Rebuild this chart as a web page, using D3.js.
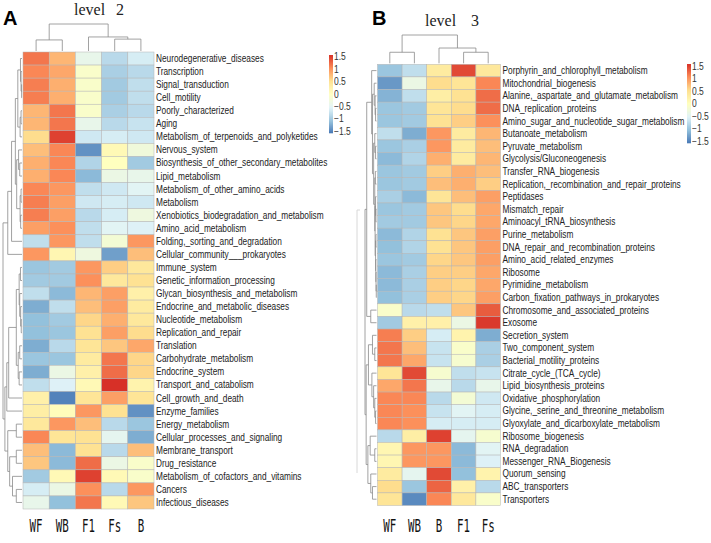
<!DOCTYPE html>
<html>
<head>
<meta charset="utf-8">
<script src="https://cdn.jsdelivr.net/npm/d3@7"></script>
<style>
body { margin: 0; background: #fff; }
svg { display: block; }
.rowlab { font-family: "Liberation Sans", Arial, sans-serif; font-size: 10px; fill: #222; }
.leglab { font-family: "Liberation Sans", Arial, sans-serif; font-size: 10px; fill: #333; }
.collab { font-family: "DejaVu Sans Mono", monospace; font-size: 15px; fill: #111; }
.title { font-family: "Liberation Serif", serif; font-size: 16px; fill: #222; }
.panel { font-family: "Liberation Sans", Arial, sans-serif; font-size: 20px; font-weight: bold; fill: #000; }
</style>
</head>
<body>
<svg id="chart" width="711" height="543"></svg>
<script>
// ---- data ----
var colsA = ["WF", "WB", "F1", "Fs", "B"];
var rowsA = ["Neurodegenerative_diseases", "Transcription", "Signal_transduction", "Cell_motility",
    "Poorly_characterized", "Aging", "Metabolism_of_terpenoids_and_polyketides", "Nervous_system",
    "Biosynthesis_of_other_secondary_metabolites", "Lipid_metabolism", "Metabolism_of_other_amino_acids",
    "Metabolism", "Xenobiotics_biodegradation_and_metabolism", "Amino_acid_metabolism",
    "Folding,_sorting_and_degradation", "Cellular_community___prokaryotes", "Immune_system",
    "Genetic_information_processing", "Glycan_biosynthesis_and_metabolism", "Endocrine_and_metabolic_diseases",
    "Nucleotide_metabolism", "Replication_and_repair", "Translation", "Carbohydrate_metabolism",
    "Endocrine_system", "Transport_and_catabolism", "Cell_growth_and_death", "Enzyme_families",
    "Energy_metabolism", "Cellular_processes_and_signaling", "Membrane_transport", "Drug_resistance",
    "Metabolism_of_cofactors_and_vitamins", "Cancers", "Infectious_diseases"];
var valsA = [
    [1.2, 0.8, -0.4, -0.8, -0.6],
    [1.1, 0.9, -0.1, -0.9, -0.8],
    [1.15, 0.85, -0.1, -0.95, -0.75],
    [1.15, 0.85, -0.1, -0.95, -0.75],
    [0.8, 1.2, -0.1, -0.9, -0.8],
    [0.8, 1.2, -0.4, -0.8, -0.7],
    [0.55, 1.5, -0.65, -0.6, -0.65],
    [0.75, 1.1, -1.4, 0.1, -0.25],
    [0.85, 1.1, -0.85, 0.0, -0.95],
    [0.85, 1.1, -1.1, -0.35, -0.4],
    [1.1, 1.0, -0.75, -0.65, -0.5],
    [1.15, 0.95, -0.65, -0.6, -0.65],
    [1.15, 0.95, -0.8, -0.6, -0.3],
    [0.95, 1.05, -0.75, -0.5, -0.55],
    [-0.75, 1.0, -0.75, -0.2, 1.0],
    [1.0, 0.15, -0.3, -1.3, 0.75],
    [-1.0, -0.95, 1.0, 0.65, 0.4],
    [-0.95, -0.95, 1.05, 0.4, 0.5],
    [-0.75, -1.1, 0.8, 0.95, 0.25],
    [-1.2, -0.75, 0.75, 0.95, 0.35],
    [-1.05, -0.95, 0.6, 0.85, 0.4],
    [-1.05, -1.0, 0.5, 0.95, 0.55],
    [-1.2, -0.8, 0.45, 0.7, 0.9],
    [-1.0, -1.0, 0.35, 1.2, 0.6],
    [-1.2, -0.35, 0.25, 1.25, 0.6],
    [-0.75, -0.55, 0.1, 1.6, 0.2],
    [0.25, -1.5, 0.45, 0.95, 0.45],
    [0.3, 0.05, 1.0, 0.5, -1.4],
    [0.4, 1.0, 0.75, -0.8, -1.0],
    [1.1, 0.45, 0.5, -0.45, -1.2],
    [0.75, -1.1, 0.5, -0.8, 0.75],
    [0.7, -1.1, 1.25, -0.35, -0.1],
    [-0.95, 0.1, 1.5, 0.1, -0.1],
    [-0.6, -0.35, 1.05, -0.8, 1.0],
    [-0.4, -1.05, 1.2, 0.1, 0.7]
];
var colsB = ["WF", "WB", "B", "F1", "Fs"];
var rowsB = ["Porphyrin_and_chlorophyll_metabolism", "Mitochondrial_biogenesis",
    "Alanine,_aspartate_and_glutamate_metabolism", "DNA_replication_proteins",
    "Amino_sugar_and_nucleotide_sugar_metabolism", "Butanoate_metabolism", "Pyruvate_metabolism",
    "Glycolysis/Gluconeogenesis", "Transfer_RNA_biogenesis", "Replication,_recombination_and_repair_proteins",
    "Peptidases", "Mismatch_repair", "Aminoacyl_tRNA_biosynthesis", "Purine_metabolism",
    "DNA_repair_and_recombination_proteins", "Amino_acid_related_enzymes", "Ribosome", "Pyrimidine_metabolism",
    "Carbon_fixation_pathways_in_prokaryotes", "Chromosome_and_associated_proteins", "Exosome",
    "Secretion_system", "Two_component_system", "Bacterial_motility_proteins", "Citrate_cycle_(TCA_cycle)",
    "Lipid_biosynthesis_proteins", "Oxidative_phosphorylation", "Glycine,_serine_and_threonine_metabolism",
    "Glyoxylate_and_dicarboxylate_metabolism", "Ribosome_biogenesis", "RNA_degradation",
    "Messenger_RNA_Biogenesis", "Quorum_sensing", "ABC_transporters", "Transporters"];
var valsB = [
    [-1.0, -0.75, 0.35, 1.45, 0.4],
    [-1.35, -0.35, 0.55, 0.45, 1.1],
    [-1.15, -0.75, 0.3, 0.5, 1.25],
    [-1.0, -0.95, 0.45, 0.55, 1.25],
    [-1.0, -0.95, 0.5, 0.65, 1.05],
    [-0.75, -1.2, 1.0, 0.35, 0.8],
    [-1.0, -0.9, 1.0, 0.35, 0.75],
    [-1.1, -0.85, 0.85, 0.35, 0.8],
    [-1.0, -0.95, 0.65, 0.85, 0.75],
    [-1.0, -0.95, 0.75, 0.85, 0.65],
    [-0.9, -1.1, 0.45, 0.75, 0.95],
    [-1.0, -0.95, 0.7, 0.55, 0.9],
    [-0.95, -0.95, 0.7, 0.6, 0.9],
    [-1.1, -0.85, 0.5, 0.7, 0.95],
    [-1.05, -0.85, 0.5, 0.7, 0.95],
    [-1.0, -0.95, 0.6, 0.7, 0.95],
    [-1.1, -0.9, 0.65, 0.65, 0.9],
    [-1.1, -0.9, 0.65, 0.6, 0.9],
    [-1.05, -0.9, 0.65, 0.6, 0.95],
    [-0.1, -0.8, -0.75, 0.7, 1.35],
    [-0.95, 0.25, 0.25, -0.35, 1.55],
    [1.15, 0.65, -0.6, 0.2, -1.2],
    [1.2, 0.75, -0.7, -0.1, -0.9],
    [1.2, 0.9, -0.7, -0.15, -0.9],
    [0.45, 1.45, -0.15, -0.75, -0.7],
    [0.9, 1.2, -0.4, -0.8, -0.4],
    [1.1, 1.1, -0.8, -0.2, -0.65],
    [1.1, 1.05, -0.7, -0.5, -0.6],
    [1.1, 1.05, -0.6, -0.6, -0.6],
    [-0.8, 0.3, 1.5, -0.45, -0.15],
    [0.15, 1.0, 1.0, -1.1, -0.5],
    [0.15, 1.0, 1.0, -1.1, -0.55],
    [0.35, -0.45, 1.45, -1.05, 0.2],
    [0.55, -1.0, 1.3, 0.25, -0.8],
    [0.45, -1.45, 1.1, 0.4, -0.1]
];
var legendTicks = [1.5, 1, 0.5, 0, -0.5, -1, -1.5];

// dendrograms: [height, left, right], leaves are row/column indices
var colTreeA = [1.0, [0.41, 0, 1], [0.52, 2, [0.44, 3, 4]]];
var colTreeB = [1.0, [0.39, 0, 1], [0.54, 2, [0.39, 3, 4]]];

var treeA_top = [0.35,
    [0.22, [0.08, 0, [0.05, 1, [0.02, 2, 3]]], [0.1, [0.05, 4, 5], 6]],
    [0.28, [0.18, 7, [0.12, 8, 9]], [0.1, [0.05, 10, 11], [0.07, 12, 13]]]];
var treeA_mid = [0.3,
    [0.15, [0.08, 16, 17], [0.12, 18, [0.07, 19, [0.04, 20, 21]]]],
    [0.2, [0.12, 22, 23], [0.15, 24, 25]]];
var treeA_low = [0.75, [0.3, 28, 29], [0.65, [0.3, 30, 31], [0.5, 32, [0.3, 33, 34]]]];
var rowTreeA = [1.0,
    [0.75, [0.55, treeA_top, 14], 15],
    [0.9, [0.8, [0.7, treeA_mid, 26], 27], treeA_low]];

var treeB_a = [0.2, 1, [0.12, 2, [0.08, 3, 4]]];
var treeB_b = [0.08, [0.05, 13, 14], [0.06, 15, [0.04, 16, [0.02, 17, 18]]]];
var treeB_c = [0.25, [0.15, 5, [0.08, 6, 7]], [0.15, [0.1, 8, 9], [0.12, [0.08, 10, [0.05, 11, 12]], treeB_b]]];
var treeB_top = [0.42, 0, [0.35, treeB_a, treeB_c]];
var treeB_mid = [0.7, [0.35, 21, [0.15, 22, 23]], [0.4, 24, [0.25, 25, [0.15, 26, [0.08, 27, 28]]]]];
var treeB_low = [0.75, [0.55, 29, [0.15, 30, 31]], [0.5, 32, [0.35, 33, 34]]];
var rowTreeB = [1.0, [0.85, treeB_top, [0.5, 19, 20]], [0.9, treeB_mid, treeB_low]];

// ---- drawing ----
var svg = d3.select("#chart");
var color = d3.scaleLinear()
    .domain(d3.range(7).map(function(i){ return -1.6 + i * 3.2 / 6; }))
    .range(["#4575B4", "#91BFDB", "#E0F3F8", "#FFFFBF", "#FEE090", "#FC8D59", "#D73027"])
    .clamp(true);

function drawTree(g, tree, pos, hScale, vertical) {
    // returns {p: leaf-axis position, h: height}
    function walk(node) {
        if (typeof node === "number") return {p: pos(node), h: 0};
        var a = walk(node[1]), b = walk(node[2]);
        var H = hScale(node[0]), ha = hScale(a.h), hb = hScale(b.h);
        var pts = vertical
            ? [[a.p, ha], [a.p, H], [b.p, H], [b.p, hb]]
            : [[ha, a.p], [H, a.p], [H, b.p], [hb, b.p]];
        g.append("path")
            .attr("d", d3.line()(pts))
            .attr("fill", "none")
            .attr("stroke", "#8a8a8a")
            .attr("stroke-width", 0.8);
        return {p: (a.p + b.p) / 2, h: node[0]};
    }
    walk(tree);
}

function panel(opt) {
    var g = svg.append("g");
    var x = d3.scaleBand().domain(d3.range(opt.cols.length)).range([opt.left, opt.right]);
    var y = d3.scaleBand().domain(d3.range(opt.rows.length)).range([opt.top, opt.bottom]);

    opt.vals.forEach(function(row, i) {
        g.selectAll(null)
            .data(row)
            .enter().append("rect")
            .attr("x", function(d, j){ return x(j); })
            .attr("y", y(i))
            .attr("width", x.bandwidth())
            .attr("height", y.bandwidth())
            .attr("fill", function(d){ return color(d); })
            .attr("stroke", "#b5b5b5")
            .attr("stroke-width", 0.5);
    });

    // labels are squeezed horizontally like the narrow font of the original
    g.selectAll(".rowlab")
        .data(opt.rows)
        .enter().append("text")
        .attr("class", "rowlab")
        .attr("transform", function(d, i){
            return "translate(" + (opt.right + 2) + "," + (y(i) + y.bandwidth() / 2) + ") scale(0.83,1)";
        })
        .attr("dy", "0.35em")
        .text(function(d){ return d; });

    g.selectAll(".collab")
        .data(opt.cols)
        .enter().append("text")
        .attr("class", "collab")
        .attr("text-anchor", "middle")
        .attr("transform", function(d, j){
            return "translate(" + (x(j) + x.bandwidth() / 2) + "," + opt.colLabY + ") scale(0.72,1.15)";
        })
        .text(function(d){ return d; });

    // column dendrogram
    var hc = d3.scaleLinear().domain([0, 1]).range([opt.top - 1, opt.colTreeTop]);
    drawTree(g, opt.colTree, function(j){ return x(j) + x.bandwidth() / 2; }, hc, true);
    // row dendrogram
    var hr = d3.scaleLinear().domain([0, 1]).range([opt.left - 1, opt.rowTreeLeft]);
    drawTree(g, opt.rowTree, function(i){ return y(i) + y.bandwidth() / 2; }, hr, false);

    // legend
    var ly = d3.scaleLinear().domain([-1.58, 1.58]).range([opt.legBottom, opt.legTop]);
    var steps = d3.range(-1.58, 1.58, 0.04);
    g.selectAll(".legcell")
        .data(steps)
        .enter().append("rect")
        .attr("x", opt.legX)
        .attr("y", function(d){ return ly(d + 0.04); })
        .attr("width", 4)
        .attr("height", ly(0) - ly(0.04) + 0.3)
        .attr("fill", function(d){ return color(d + 0.02); });
    g.selectAll(".leglab")
        .data(legendTicks)
        .enter().append("text")
        .attr("class", "leglab")
        .attr("transform", function(d){
            return "translate(" + (opt.legX + 5) + "," + ly(d) + ") scale(0.85,1)";
        })
        .attr("dy", "0.35em")
        .text(function(d){ return d < 0 ? "\u2212" + Math.abs(d) : d; });

    g.append("text").attr("class", "title").attr("x", opt.titleX).attr("y", opt.titleY).text("level");
    g.append("text").attr("class", "title").attr("x", opt.titleX + opt.titleGap).attr("y", opt.titleY).text(opt.level);
    g.append("text").attr("class", "panel").attr("x", opt.panelX).attr("y", 25).text(opt.panel);
}

panel({
    cols: colsA, rows: rowsA, vals: valsA, colTree: colTreeA, rowTree: rowTreeA,
    left: 23, right: 154, top: 52, bottom: 509, colTreeTop: 24, rowTreeLeft: 3,
    colLabY: 532, legX: 329, legTop: 55, legBottom: 133,
    titleX: 74, titleY: 15, titleGap: 42, level: "2", panel: "A", panelX: 3
});
panel({
    cols: colsB, rows: rowsB, vals: valsB, colTree: colTreeB, rowTree: rowTreeB,
    left: 377.5, right: 500.5, top: 64.3, bottom: 505.5, colTreeTop: 35, rowTreeLeft: 365,
    colLabY: 532, legX: 687, legTop: 64, legBottom: 143,
    titleX: 425, titleY: 26, titleGap: 46, level: "3", panel: "B", panelX: 372
});

// faint frame edge left over from the pasted panel in the original figure
svg.append("path")
    .attr("d", "M360,210H357V473")
    .attr("fill", "none")
    .attr("stroke", "#d8d8d8")
    .attr("stroke-width", 1);
</script>
</body>
</html>
